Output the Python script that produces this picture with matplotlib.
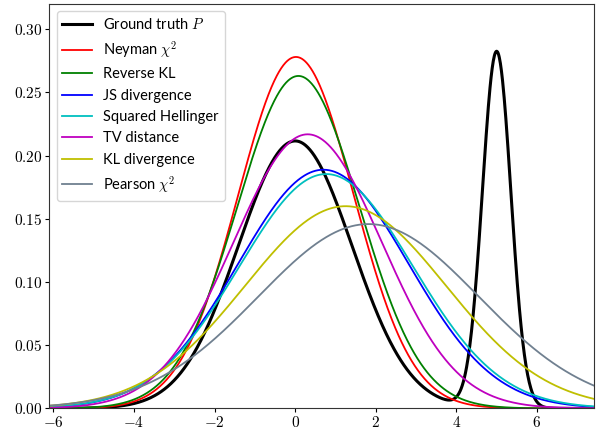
import numpy as np
import matplotlib
matplotlib.use("Agg")
from matplotlib import pyplot as plt
from matplotlib.ticker import FuncFormatter

plt.rcParams['mathtext.fontset'] = 'cm'
plt.rcParams['font.family'] = ['Lato', 'DejaVu Sans']

# Ground truth P: mixture of two gaussians (weight, mean, std)
truth_weights = [0.75, 0.25]
truth_means = [0.0, 5.0]
truth_stds = [np.sqrt(2.0), np.sqrt(0.125)]

# Single gaussian fits Q found by minimising each divergence
fit_names = ['Neyman $\\chi^2$', 'Reverse KL', 'JS divergence', 'Squared Hellinger',
             'TV distance', 'KL divergence', 'Pearson $\\chi^2$']
fit_means = [0.02, 0.08, 0.70, 0.77, 0.31, 1.25, 1.82]
fit_stds = [1.435, 1.517, 2.113, 2.152, 1.840, 2.494, 2.736]
fit_colors = ['r', 'g', 'b', 'c', 'm', 'y', 'slategray']


def normal_pdf(x, mu, sigma):
    return np.exp(-0.5 * ((x - mu) / sigma) ** 2) / (np.sqrt(2 * np.pi) * sigma)


x = np.linspace(-6.1, 7.42, 1000)
p = sum(w * normal_pdf(x, m, s) for w, m, s in zip(truth_weights, truth_means, truth_stds))

fig = plt.figure(figsize=(6.02, 4.29), dpi=100)
ax = fig.add_axes([0.082, 0.048, 0.905, 0.943])

ax.plot(x, p, color='k', lw=2.2, label='Ground truth $P$')
for name, mu, sigma, c in zip(fit_names, fit_means, fit_stds, fit_colors):
    ax.plot(x, normal_pdf(x, mu, sigma), color=c, lw=1.3, label=name)

ax.set_xlim(-6.1, 7.42)
ax.set_ylim(0, 0.32)
ax.set_xticks([-6, -4, -2, 0, 2, 4, 6])
ax.set_yticks([0, 0.05, 0.10, 0.15, 0.20, 0.25, 0.30])
ax.xaxis.set_major_formatter(FuncFormatter(lambda v, pos: '$%d$' % v))
ax.yaxis.set_major_formatter(FuncFormatter(lambda v, pos: '$%.2f$' % v))
ax.tick_params(labelsize=11, length=3, pad=2)
for side in ax.spines.values():
    side.set_edgecolor('#333333')

ax.legend(loc='upper left', fontsize=10.5, handlelength=2.0)

plt.savefig('out.png', dpi=100)
